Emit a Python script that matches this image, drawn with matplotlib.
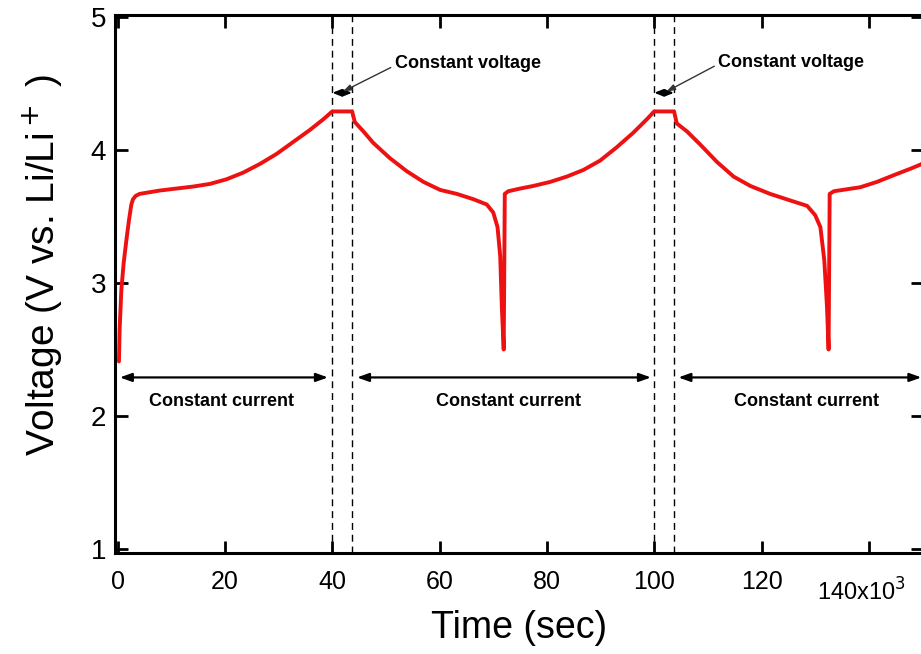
import matplotlib
matplotlib.use("Agg")
import matplotlib.pyplot as plt

plt.rcParams['font.family'] = ['Liberation Sans', 'DejaVu Sans']

# ---- data (time in 10^3 s, voltage in V) ----
time_ks = [0.24, 0.37, 0.69, 1.12, 1.62, 2.1, 2.55, 2.86, 3.36, 4.1, 7.8, 10.9, 14.05,
           17.2, 20.3, 23.4, 26.5, 29.6, 32.7, 35.8, 38.3, 40.0,
           43.7, 44.2, 45.8, 47.6, 50.7, 53.9, 57.0, 60.1, 63.2, 66.3, 68.8, 70.0, 70.8,
           71.3, 71.6, 71.95,
           72.15, 72.8, 75.0, 77.5, 80.6, 83.7, 86.8, 89.9, 93.0, 96.1, 98.6, 100.0,
           103.7, 104.2, 106.1, 108.6, 111.7, 114.8, 117.9, 121.6, 125.4, 128.5, 130.0,
           130.97, 131.7, 132.2, 132.5,
           132.7, 133.5, 138.4, 141.5, 144.6, 147.8, 149.6, 150.5]
voltage = [2.41, 2.65, 2.95, 3.15, 3.32, 3.47, 3.59, 3.63, 3.655, 3.67, 3.695, 3.71, 3.725,
           3.745, 3.78, 3.83, 3.895, 3.97, 4.06, 4.15, 4.23, 4.29,
           4.29, 4.21, 4.14, 4.055, 3.94, 3.84, 3.76, 3.70, 3.67, 3.63, 3.59, 3.53, 3.42,
           3.20, 2.82, 2.50,
           3.67, 3.69, 3.71, 3.73, 3.76, 3.80, 3.85, 3.92, 4.02, 4.13, 4.23, 4.29,
           4.29, 4.20, 4.14, 4.04, 3.91, 3.80, 3.73, 3.67, 3.62, 3.58, 3.51,
           3.42, 3.17, 2.82, 2.50,
           3.67, 3.69, 3.72, 3.76, 3.81, 3.86, 3.89, 3.91]

cv_bounds = [40.0, 43.7, 100.0, 103.7]
cv_pairs = [(40.0, 43.7), (100.0, 103.7)]
cc_spans = [(0.4, 39.2), (44.6, 99.4), (104.5, 149.8)]
cc_text_x = [19.4, 72.9, 128.4]
cv_text_pos = [(51.7, 4.65), (111.8, 4.66)]
cv_pointer_from = [(50.9, 4.62), (111.2, 4.63)]
cv_pointer_to = [(42.0, 4.44), (102.3, 4.44)]
x_ticks = [0, 20, 40, 60, 80, 100, 120, 140]
x_tick_labels = ['0', '20', '40', '60', '80', '100', '120', '']
y_ticks = [1, 2, 3, 4, 5]

W, H = 921, 654
fig = plt.figure(figsize=(W / 100, H / 100), dpi=100)
ax = fig.add_axes([114.7 / W, (H - 553) / H, (922.5 - 114.7) / W, (553 - 15) / H])

ax.plot(time_ks, voltage, color='#ee1111', lw=2.8, solid_joinstyle='round',
        solid_capstyle='round', zorder=3)

for xb in cv_bounds:
    ax.axvline(xb, color='black', lw=1.0, ls=(0, (5, 3.5)), zorder=2)

arrow_kw = dict(arrowstyle='<|-|>,head_length=0.7,head_width=0.25', color='black', lw=1.6,
                shrinkA=0, shrinkB=0)
for (a, b) in cc_spans:
    ax.annotate('', xy=(b, 2.29), xytext=(a, 2.29), arrowprops=arrow_kw)
for xt in cc_text_x:
    ax.text(xt, 2.11, 'Constant current', ha='center', va='center',
            fontsize=13, fontweight='bold')

small_kw = dict(arrowstyle='<|-|>,head_length=0.5,head_width=0.2', color='black', lw=1.5,
                shrinkA=0, shrinkB=0)
for (a, b) in cv_pairs:
    ax.annotate('', xy=(b, 4.43), xytext=(a, 4.43), arrowprops=small_kw)
for (tx, ty), (fx, fy), (px, py) in zip(cv_text_pos, cv_pointer_from, cv_pointer_to):
    ax.text(tx, ty, 'Constant voltage', ha='left', va='center', fontsize=13, fontweight='bold')
    ax.annotate('', xy=(px, py), xytext=(fx, fy),
                arrowprops=dict(arrowstyle='-|>,head_length=0.5,head_width=0.18',
                                color='#333333', lw=1.0, shrinkA=0, shrinkB=0))

ax.set_xlim(-0.55, 150)
ax.set_ylim(0.97, 5.015)
ax.set_xticks(x_ticks)
ax.set_xticklabels(x_tick_labels)
ax.set_yticks(y_ticks)
ax.tick_params(axis='both', direction='in', length=9, width=2, top=True, right=True)
ax.tick_params(axis='x', labelsize=18, pad=12)
ax.tick_params(axis='y', labelsize=20, pad=6)
for s in ax.spines.values():
    s.set_linewidth(2.2)

fig.text(817 / W, 1 - 592 / H, '140x10$^3$', fontsize=17, ha='left', va='center')

ax.set_xlabel('Time (sec)', fontsize=27, labelpad=12)
ax.set_ylabel('Voltage (V vs. Li/Li$^+$ )', fontsize=28)
ax.yaxis.set_label_coords(-0.062, 0.535)

fig.savefig('out.png', dpi=100)
